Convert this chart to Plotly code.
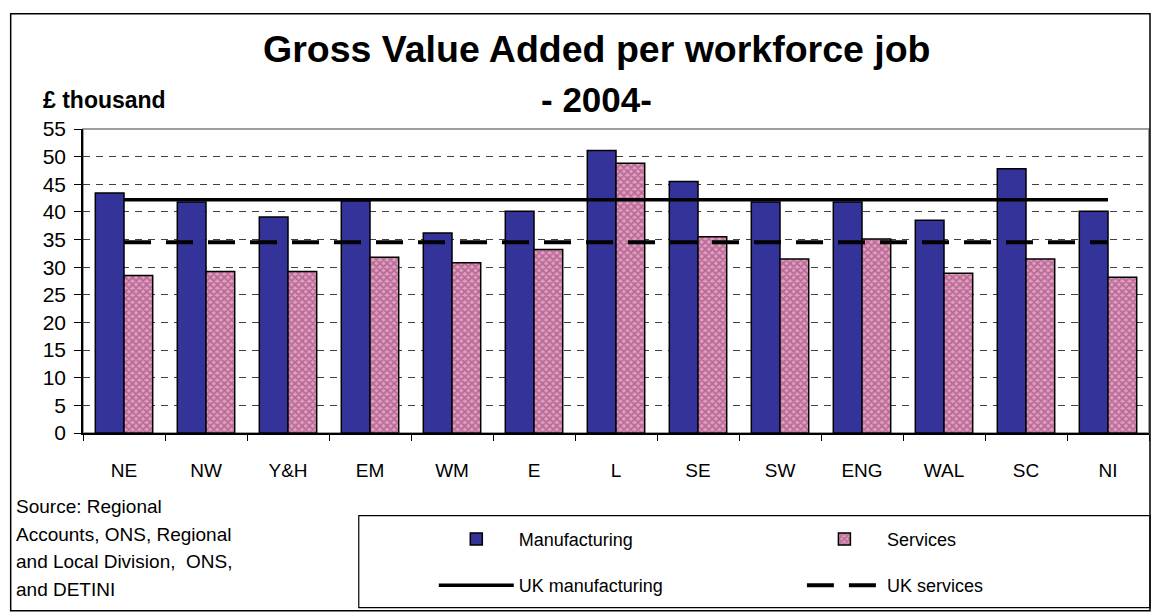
import plotly.graph_objects as go

regions = ["NE", "NW", "Y&H", "EM", "WM", "E", "L", "SE", "SW", "ENG", "WAL", "SC", "NI"]
manufacturing = [43.4, 41.8, 39.1, 42.0, 36.2, 40.1, 51.1, 45.5, 41.8, 41.8, 38.5, 47.8, 40.1]
services = [28.5, 29.2, 29.2, 31.8, 30.8, 33.2, 48.8, 35.5, 31.5, 35.1, 28.9, 31.5, 28.2]
uk_manufacturing = 42.2
uk_services = 34.5

title_line1 = "Gross Value Added per workforce job"
title_line2 = "- 2004-"
unit_label = "£ thousand"
source_lines = ["Source: Regional", "Accounts, ONS, Regional", "and Local Division,  ONS,", "and DETINI"]

W, H = 1151, 612
L, R, T, B = 83.3, 1149, 129.3, 433.3
FONT = "Liberation Sans, Arial, sans-serif"


def px(x):
    return (x - L) / (R - L)


def py(y):
    return (B - y) / (B - T)


fig = go.Figure()
fig.add_trace(go.Bar(
    x=regions, y=manufacturing, name="Manufacturing",
    marker=dict(color="#333399", line=dict(color="black", width=1.5)),
    legend="legend", legendgroup="m",
))
fig.add_trace(go.Bar(
    x=regions, y=services, name="Services",
    marker=dict(color="#d898bc", line=dict(color="black", width=1.5),
                pattern=dict(shape="x", fgcolor="#993366", bgcolor="#dca0c2", size=5, solidity=0.6)),
    legend="legend2", legendgroup="s",
))
fig.add_trace(go.Scatter(
    x=regions, y=[uk_manufacturing] * len(regions), name="UK manufacturing",
    mode="lines", line=dict(color="black", width=3.5),
    legend="legend", legendgroup="um",
))
fig.add_trace(go.Scatter(
    x=regions, y=[uk_services] * len(regions), name="UK services",
    mode="lines", line=dict(color="black", width=4, dash="27px,15px"),
    legend="legend2", legendgroup="us",
))

annotations = [
    dict(text="<b>" + title_line1 + "</b>", x=px(597), y=py(49), xref="paper", yref="paper",
         xanchor="center", yanchor="middle", showarrow=False, font=dict(size=37.5, color="black", family=FONT)),
    dict(text="<b>" + title_line2 + "</b>", x=px(597), y=py(100), xref="paper", yref="paper",
         xanchor="center", yanchor="middle", showarrow=False, font=dict(size=35, color="black", family=FONT)),
    dict(text="<b>" + unit_label + "</b>", x=px(41), y=py(100), xref="paper", yref="paper",
         xanchor="left", yanchor="middle", showarrow=False, font=dict(size=23, color="black", family=FONT)),
]
for i, line in enumerate(source_lines):
    annotations.append(dict(text=line, x=px(14), y=py(507 + i * 27.5), xref="paper", yref="paper",
                            xanchor="left", yanchor="middle", showarrow=False,
                            font=dict(size=19, color="black", family=FONT)))

shapes = [
    dict(type="rect", xref="paper", yref="paper", x0=0, x1=1, y0=0, y1=1,
         line=dict(color="#808080", width=1.5), layer="below"),
    dict(type="rect", xref="paper", yref="paper", x0=px(359), x1=px(1150), y0=py(516), y1=py(608),
         line=dict(color="black", width=1.2), fillcolor="rgba(0,0,0,0)"),
    dict(type="rect", xref="paper", yref="paper", x0=px(11), x1=px(1150), y0=py(14), y1=py(611),
         line=dict(color="black", width=1.5), fillcolor="rgba(0,0,0,0)"),
]

legend_common = dict(orientation="v", font=dict(size=18, color="black", family=FONT),
                     bgcolor="rgba(0,0,0,0)", borderwidth=0, itemwidth=75,
                     tracegroupgap=20, traceorder="grouped", yanchor="top",
                     itemclick=False, itemdoubleclick=False)

fig.update_layout(
    width=W, height=H,
    margin=dict(l=L, r=W - R, t=T, b=H - B),
    paper_bgcolor="white", plot_bgcolor="white",
    font=dict(family=FONT, color="black"),
    barmode="group", bargap=0.3, bargroupgap=0,
    showlegend=True,
    legend=dict(x=px(434), y=py(521), xanchor="left", **legend_common),
    legend2=dict(x=px(802), y=py(521), xanchor="left", **legend_common),
    annotations=annotations, shapes=shapes,
)
fig.update_xaxes(
    type="category", showline=True, linecolor="black", linewidth=1.5,
    ticks="outside", ticklen=6, tickcolor="black", tickwidth=1, tickson="boundaries",
    tickfont=dict(size=19, family=FONT, color="black"), ticklabelstandoff=19,
    showgrid=False,
)
fig.update_yaxes(
    range=[0, 55], dtick=5, tick0=0, showline=True, linecolor="black", linewidth=1.5,
    ticks="outside", ticklen=7, tickcolor="black", tickwidth=1,
    tickfont=dict(size=21, family=FONT, color="black"), ticklabelstandoff=4,
    showgrid=True, gridcolor="#404040", gridwidth=1, griddash="7px,6px",
    zeroline=False,
)

fig.write_html("out.html", config={"displayModeBar": False},
               post_script="document.body.style.margin='0';document.body.style.padding='0';")
